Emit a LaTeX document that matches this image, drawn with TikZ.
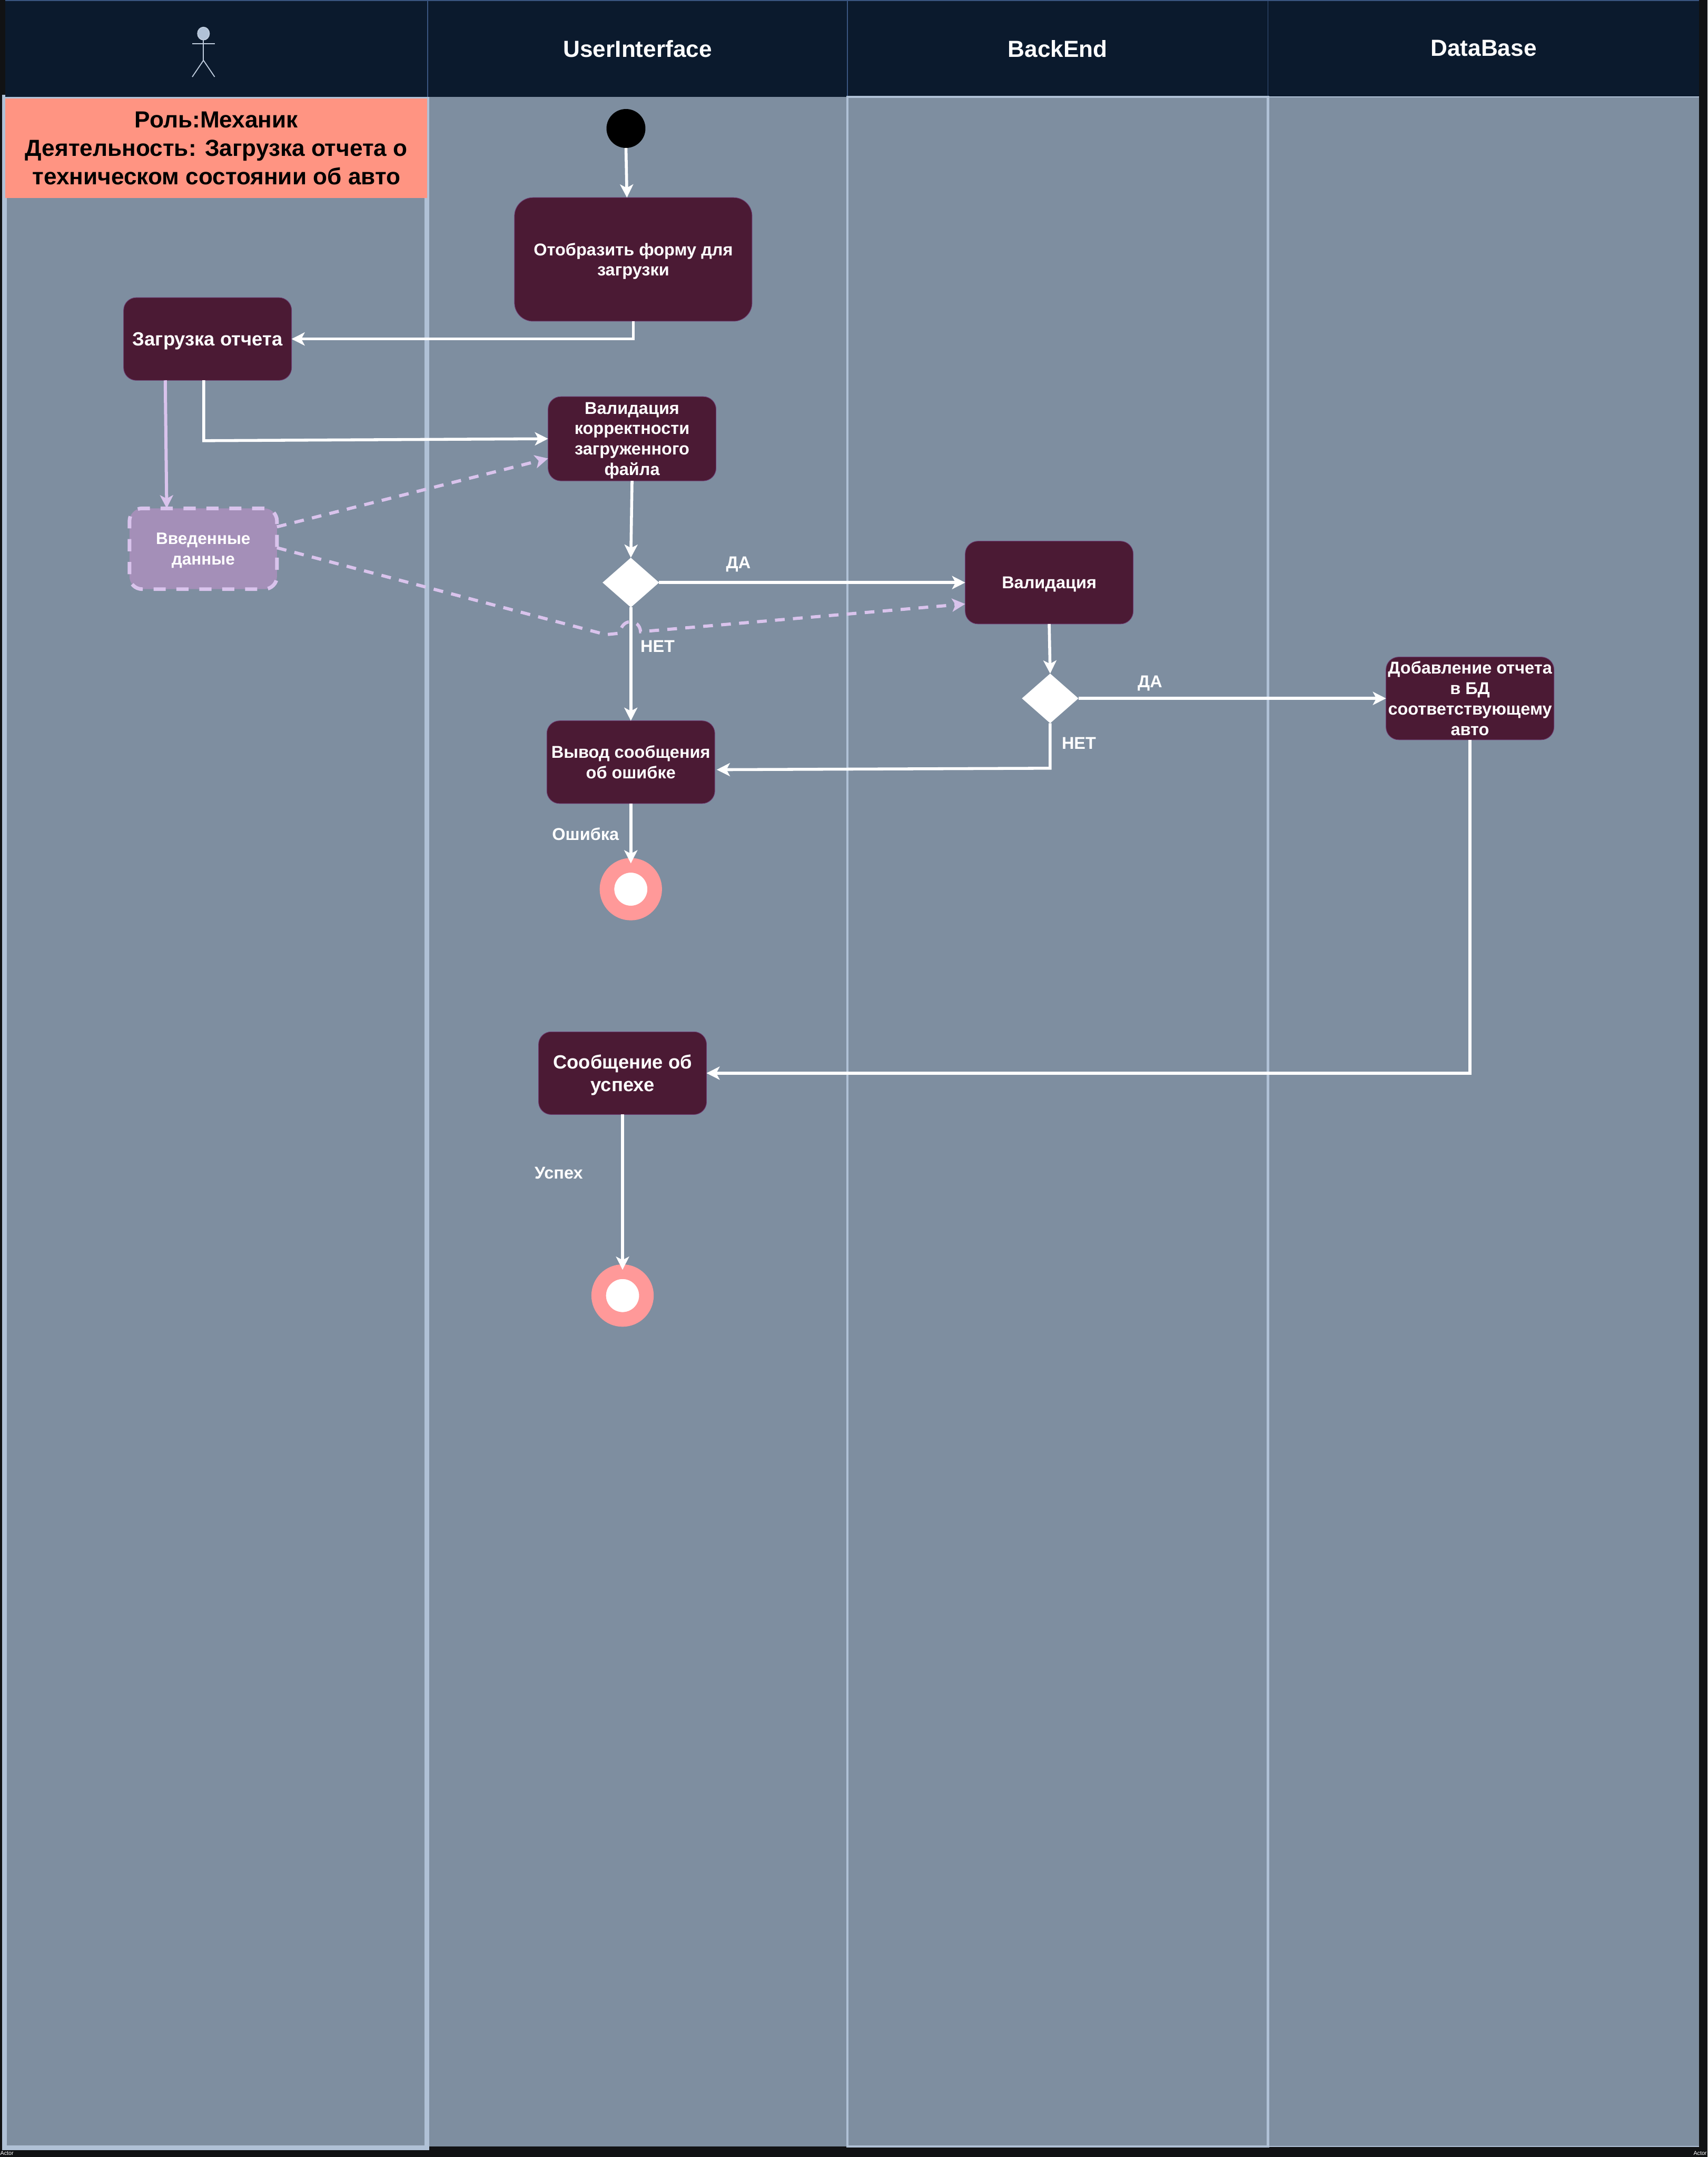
\documentclass[tikz,border=0pt]{standalone}
\usepackage{fontspec}
\setmainfont{Liberation Sans}
\usepackage{xcolor}
\usepackage{tikz}
\usetikzlibrary{arrows.meta}
\usetikzlibrary{positioning}
\usetikzlibrary{calc}
\usetikzlibrary{shapes.geometric}
\definecolor{myPage}{HTML}{111214}
\definecolor{myHead}{HTML}{0B1A2D}
\definecolor{myHeadLine}{HTML}{3A5580}
\definecolor{myLane}{HTML}{7E8EA0}
\definecolor{myBand}{HTML}{B0C1D6}
\definecolor{mySalmon}{HTML}{FF9482}
\definecolor{myAct}{HTML}{4B1A34}
\definecolor{myActLine}{HTML}{6E3A70}
\definecolor{myData}{HTML}{A48FB8}
\definecolor{myLilac}{HTML}{D9C3EC}
\definecolor{myFinal}{HTML}{FF9999}
\newcommand{\fs}[2]{\fontsize{#1}{#2}\selectfont\bfseries}

\begin{document}
\begin{tikzpicture}[>={Stealth[length=0.27cm,width=0.27cm,inset=0.07cm]}]
\tikzstyle{act}=[rectangle, rounded corners=0.26cm, draw=myActLine, line width=0.3pt, fill=myAct, text=white, align=center, minimum width=3.45cm, minimum height=1.7cm, inner sep=0pt, outer sep=0pt, text depth=0pt, font=\fs{10}{11.95}]
\tikzstyle{dia}=[diamond, fill=white, minimum width=1.16cm, minimum height=1.02cm, inner sep=0pt, outer sep=0pt]
\tikzstyle{final}=[circle, draw=myFinal, fill=white, line width=0.3cm, minimum size=0.98cm, inner sep=0pt, outer sep=0.04cm]
\tikzstyle{edge}=[->, draw=white, line width=0.06cm]
\tikzstyle{dataedge}=[->, draw=myLilac, line width=0.065cm]
\tikzstyle{datadash}=[dataedge, dash pattern=on 0.2cm off 0.17cm]
\tikzstyle{lbl}=[text=white, inner sep=0pt, text depth=0pt, font=\fs{10}{12}]
\tikzstyle{hdr}=[text=white, inner sep=0pt, font=\fs{13.6}{16}]
\tikzstyle{tiny}=[text=white, inner sep=0pt, font=\fontsize{3.3}{4}\selectfont]
\tikzstyle{figure}=[draw=myBand!80!white, line width=0.02cm]
\useasboundingbox (0,0) rectangle (35.08,-44.32);
\fill[myPage] (0,0) rectangle (35.08,-44.32);
% lanes
\fill[myLane] (0.11,-1.99) rectangle (34.91,-44.10);
\draw[myBand, line width=0.1cm] (0.095,-2.0) rectangle (8.77,-44.13);
\fill[myHead] (0.11,0) rectangle (34.91,-1.99);
\draw[myHeadLine, line width=0.02cm] (0.11,-0.01) -- (34.91,-0.01);
\foreach \x in {8.79,17.41,26.05}
  \draw[myHeadLine, line width=0.02cm] (\x,0) -- (\x,-1.99);
\draw[myBand, line width=0.02cm] (26.05,-1.99) -- (34.91,-1.99);
\draw[myBand, line width=0.02cm] (26.05,-44.10) -- (34.91,-44.10);
\draw[myBand, line width=0.045cm] (17.41,-1.99) rectangle (26.05,-44.10);
% role note
\node[rectangle, fill=mySalmon, minimum width=8.67cm, minimum height=2.05cm, inner sep=0pt, align=center, text=black, font=\fs{13.6}{16.7}] (role) at (4.445,-3.045) {Роль:Механик\\Деятельность: Загрузка отчета о\\техническом состоянии об авто};
% headers
\node[hdr] (hdrUi) at (13.10,-1.00) {UserInterface};
\node[hdr] (hdrBack) at (21.73,-1.00) {BackEnd};
\node[hdr] (hdrDb) at (30.48,-0.99) {DataBase};
\draw[figure, fill=myBand] (4.18,-0.69) ellipse (0.12cm and 0.13cm);
\draw[figure] (3.95,-0.90) -- (4.41,-0.90);
\draw[figure] (4.18,-0.82) -- (4.18,-1.24);
\draw[figure] (3.95,-1.58) -- (4.18,-1.24) -- (4.41,-1.58);
\node[tiny, anchor=west] (actorA) at (0,-44.24) {Actor};
\node[tiny, anchor=east] (actorB) at (35.07,-44.24) {Actor};
% activities
\node[circle, fill=black, minimum size=0.8cm, inner sep=0pt, outer sep=0pt] (start) at (12.86,-2.64) {};
\node[act, below=1.02cm of start, xshift=0.15cm, minimum width=4.88cm, minimum height=2.54cm, rounded corners=0.38cm] (form) {Отобразить форму для\\загрузки};
\node[act, left=4.58cm of form, yshift=-1.635cm, font=\fs{11.2}{13}] (upload) {Загрузка отчета};
\node[act, below=1.55cm of form, xshift=-0.025cm, minimum height=1.73cm] (check) {Валидация\\корректности\\загруженного\\файла};
\node[dia, below=1.58cm of check, xshift=-0.025cm] (choiceA) {};
\node[act, below=2.33cm of choiceA] (error) {Вывод сообщения\\об ошибке};
\node[final, below=1.23cm of error] (endA) {};
\node[act, right=6.29cm of choiceA] (valid) {Валидация};
\node[dia, below=1.02cm of valid, xshift=0.02cm] (choiceB) {};
\node[act, right=6.32cm of choiceB] (store) {Добавление отчета\\в БД\\соответствующему\\авто};
\node[act, below=4.69cm of error, xshift=-0.17cm, font=\fs{11.2}{13.4}] (success) {Сообщение об\\успехе};
\node[final, below=3.19cm of success] (endB) {};
\node[rectangle, rounded corners=0.26cm, draw=myLilac, line width=0.075cm, dash pattern=on 0.25cm off 0.22cm, fill=myData, text=white, align=center, minimum width=3.03cm, minimum height=1.66cm, inner sep=0pt, outer sep=0pt, text depth=0pt, font=\fs{9.7}{11.95}, below=2.63cm of upload, xshift=-0.09cm] (data) {Введенные\\данные};
% flow
\draw[edge] (start.south) -- ([xshift=-0.13cm]form.north);
\draw[edge] (form.south) |- (upload.east);
\draw[edge] ([xshift=-0.08cm]upload.south) -- ([xshift=-0.08cm,yshift=-1.24cm]upload.south) -- (check.west);
\draw[edge] (check.south) -- (choiceA.north);
\draw[edge] (choiceA.east) -- (valid.west);
\draw[edge] (choiceA.south) -- (error.north);
\draw[edge] (error.south) -- (endA.north);
\draw[edge] (valid.south) -- (choiceB.north);
\draw[edge] (choiceB.east) -- (store.west);
\draw[edge] (choiceB.south) -- ++(0,-0.925) -- ([xshift=0.04cm,yshift=-0.155cm]error.east);
\draw[edge] (store.south) |- (success.east);
\draw[edge] (success.south) -- (endB.north);
% data flow
\draw[dataedge] ([xshift=-0.87cm]upload.south) -- ([xshift=-0.75cm]data.north);
\draw[datadash] ([yshift=0.45cm]data.east) -- ([yshift=-0.405cm]check.west);
\coordinate (kink) at (12.45,-13.04);
\coordinate (jumpA) at (12.74,-13.01);
\coordinate (jumpB) at (13.16,-12.98);
\draw[datadash] ([yshift=0.02cm]data.east) -- (kink) -- (jumpA) .. controls (12.76,-12.70) and (13.14,-12.70) .. (jumpB) -- ([yshift=-0.44cm]valid.west);
% labels
\node[lbl] (yesA) at ($(choiceA)+(2.21,0.41)$) {ДА};
\node[lbl] (noA) at ($(choiceA)+(0.55,-1.31)$) {НЕТ};
\node[lbl] (yesB) at ($(choiceB)+(2.05,0.35)$) {ДА};
\node[lbl] (noB) at ($(choiceB)+(0.59,-0.92)$) {НЕТ};
\node[lbl] (failText) at ($(endA)+(-0.93,1.14)$) {Ошибка};
\node[lbl] (okText) at ($(endB)+(-1.31,2.52)$) {Успех};
\end{tikzpicture}
\end{document}
